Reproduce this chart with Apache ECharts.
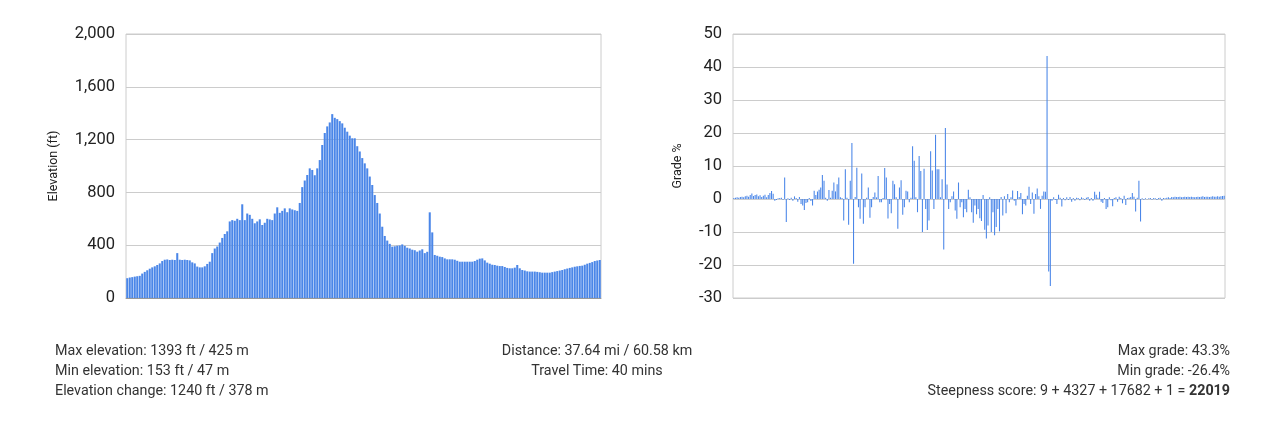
<!DOCTYPE html>
<html>
<head>
<meta charset="utf-8">
<script src="https://cdn.jsdelivr.net/npm/echarts@6/dist/echarts.min.js"></script>
<style>
  html, body { margin: 0; padding: 0; background: #fff; }
  #wrap { position: relative; width: 1272px; height: 429px; font-family: Roboto, "Noto Sans", sans-serif; }
  #chart { position: absolute; left: 0; top: 0; width: 1272px; height: 429px; }
  .stats { position: absolute; font-size: 14.3px; color: #333; line-height: 20px; }
</style>
</head>
<body>
<div id="wrap">
  <div id="chart"></div>
  <div class="stats" id="leftStats" style="left:55px; top:340px; text-align:left;"></div>
  <div class="stats" id="midStats" style="left:397px; width:400px; top:340px; text-align:center;"></div>
  <div class="stats" id="rightStats" style="right:42px; top:340px; text-align:right;"></div>
</div>
<script>
// ---- Data ----
const elevationFt = [
  150,155,158,162,165,168,185,198,210,222,
  232,240,250,262,280,290,292,288,290,288,
  340,290,288,290,288,285,270,262,238,232,
  232,240,258,275,340,375,390,420,455,485,
  505,580,590,585,600,590,710,590,640,630,
  600,566,580,596,553,570,600,595,590,640,
  687,645,660,679,650,679,671,665,660,720,
  840,890,932,982,970,930,982,1045,1159,1250,
  1300,1330,1393,1365,1355,1340,1323,1290,1260,1230,
  1210,1210,1150,1110,1060,1020,982,920,856,780,
  720,640,540,470,435,410,389,392,396,398,
  406,395,381,375,366,362,351,360,369,340,
  350,649,497,326,320,313,310,300,293,293,
  293,290,282,275,275,275,275,275,275,280,
  290,298,300,285,268,260,252,250,245,242,
  242,235,228,225,225,230,250,225,212,208,
  202,200,200,200,198,195,192,192,192,192,
  196,200,204,208,212,218,223,228,232,237,
  240,243,245,252,260,266,272,280,284,288
];
const gradePct = [
  0.3,0.4,0.5,0.4,0.6,0.7,0.5,0.8,1.0,0.7,
  1.2,1.7,0.9,1.2,1.4,0.8,1.1,0.6,1.0,1.3,
  0.5,1.2,1.8,2.4,1.6,-0.5,-0.3,0.2,0.3,0.4,
  -0.2,6.5,-7.0,0.2,-0.3,0.4,-0.5,0.8,0.3,-0.8,
  0.6,-1.5,-2.0,-3.3,-1.2,-1.0,0.3,-0.6,-2.0,2.5,
  1.2,2.3,2.8,3.5,7.3,5.5,0.4,-0.5,2.7,0.4,
  2.5,5.0,2.3,4.5,6.5,0.5,0.3,-6.5,9.0,0.4,
  -7.8,5.5,17.0,-19.6,0.6,9.5,-2.5,-6.0,7.7,-7.5,
  -2.5,0.4,3.5,-5.7,-2.5,0.6,2.0,0.5,7.0,-1.0,
  -1.0,0.3,9.4,6.5,-5.9,-1.5,-4.3,5.5,4.5,0.5,
  -9.0,3.5,5.7,-4.8,-2.5,2.5,2.3,-1.0,0.4,16.0,
  11.6,0.5,-4.0,13.0,8.5,-10.0,9.2,-3.0,-9.4,-6.5,
  14.5,8.6,-3.0,19.5,9.0,9.0,0.5,6.0,-15.3,21.5,
  4.4,-3.0,-1.0,0.8,2.3,-3.5,-6.0,5.0,-2.5,-1.0,
  -5.5,-3.0,-4.0,2.8,0.5,-4.0,-7.2,-2.0,-4.6,-3.0,
  -5.8,-6.7,1.2,-9.3,-12.0,-8.0,0.5,-10.0,-4.0,-11.0,
  -8.5,-3.0,-9.8,0.6,-5.0,0.8,-4.3,1.5,-1.0,0.5,
  2.6,-0.5,-2.0,2.4,0.6,1.8,-4.6,-1.5,-2.0,1.0,
  3.7,-1.5,2.0,-4.5,1.5,3.2,0.8,-3.0,1.0,2.3,
  2.2,43.3,-22.0,-26.4,-0.5,0.5,-0.3,-1.5,1.3,0.4,
  -2.3,0.3,-0.4,0.5,-0.3,0.6,-0.8,0.3,-0.5,0.4,
  0.3,-0.4,0.5,0.2,-0.3,0.4,0.6,-0.5,0.3,-0.5,
  2.2,1.3,0.4,2.2,-0.8,-1.2,0.3,-3.0,-2.5,0.5,
  -0.4,-2.2,0.3,0.5,-0.8,0.7,0.3,-1.3,1.0,-1.8,
  0.3,0.4,0.6,1.8,0.7,-3.8,0.4,5.5,-6.8,0.2,
  -0.2,0.2,-0.1,0.2,0.3,-0.2,0.3,0.2,-0.3,0.3,
  0.4,-0.5,0.3,0.2,0.4,0.5,0.3,0.6,0.5,0.7,
  0.6,0.6,0.7,0.5,0.6,0.7,0.6,0.7,0.6,0.7,
  0.6,0.5,0.6,0.7,0.6,0.7,0.8,0.6,0.7,0.7,
  0.6,0.7,0.8,0.7,0.7,0.8,0.7,0.8,0.9,1.0
];
const elevationAxis = { min: 0, max: 2000, interval: 400, name: 'Elevation (ft)' };
const gradeAxis = { min: -30, max: 50, interval: 10, name: 'Grade %' };
const leftLines = [
  'Max elevation: 1393 ft / 425 m',
  'Min elevation: 153 ft / 47 m',
  'Elevation change: 1240 ft / 378 m'
];
const midLines = ['Distance: 37.64 mi / 60.58 km', 'Travel Time: 40 mins'];
const rightLines = ['Max grade: 43.3%', 'Min grade: -26.4%'];
const steepnessParts = ['9', '4327', '17682', '1'];
const steepnessTotal = '22019';

// ---- Text blocks ----
document.getElementById('leftStats').innerHTML = leftLines.join('<br>');
document.getElementById('midStats').innerHTML = midLines.join('<br>');
document.getElementById('rightStats').innerHTML = rightLines.join('<br>') +
  '<br>Steepness score: ' + steepnessParts.join(' + ') + ' = <b>' + steepnessTotal + '</b>';

// ---- Chart ----
const chart = echarts.init(document.getElementById('chart'), null, { renderer: 'canvas' });
const blue = '#4a86e8';
const labelStyle = { color: '#222', fontSize: 16.5, fontFamily: 'Roboto' };
const nameStyle = { color: '#222', fontSize: 12.5, fontFamily: 'Roboto' };
const gridLine = { lineStyle: { color: '#ccc', width: 1 } };

chart.setOption({
  animation: false,
  grid: [
    { left: 126, top: 34, width: 475, height: 264, show: true, borderColor: '#ccc', borderWidth: 1 },
    { left: 733, top: 34, width: 492, height: 264, show: true, borderColor: '#ccc', borderWidth: 1 }
  ],
  xAxis: [
    { type: 'category', gridIndex: 0, data: elevationFt.map((_, i) => i),
      axisLabel: { show: false }, axisTick: { show: false },
      axisLine: { show: true, lineStyle: { color: '#999' } } },
    { type: 'category', gridIndex: 1, data: gradePct.map((_, i) => i),
      axisLabel: { show: false }, axisTick: { show: false },
      axisLine: { show: false } }
  ],
  yAxis: [
    { type: 'value', gridIndex: 0, min: elevationAxis.min, max: elevationAxis.max, interval: elevationAxis.interval,
      name: elevationAxis.name, nameLocation: 'middle', nameGap: 66, nameTextStyle: nameStyle,
      axisLabel: Object.assign({ margin: 11, formatter: v => v.toLocaleString('en-US') }, labelStyle),
      axisLine: { show: false }, axisTick: { show: false }, splitLine: gridLine },
    { type: 'value', gridIndex: 1, min: gradeAxis.min, max: gradeAxis.max, interval: gradeAxis.interval,
      name: gradeAxis.name, nameLocation: 'middle', nameGap: 49, nameTextStyle: nameStyle,
      axisLabel: Object.assign({ margin: 11 }, labelStyle),
      axisLine: { show: false }, axisTick: { show: false }, splitLine: gridLine }
  ],
  series: [
    { type: 'bar', xAxisIndex: 0, yAxisIndex: 0, data: elevationFt,
      itemStyle: { color: blue }, barCategoryGap: '18%' },
    { type: 'bar', xAxisIndex: 1, yAxisIndex: 1, data: gradePct,
      itemStyle: { color: blue }, barCategoryGap: '35%' }
  ]
});
</script>
</body>
</html>
